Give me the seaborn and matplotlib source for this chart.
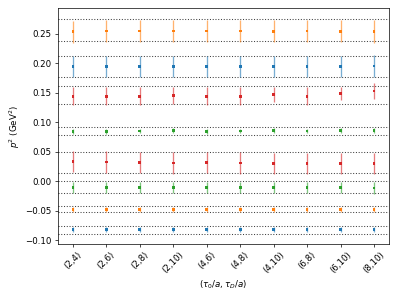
import matplotlib
matplotlib.use('Agg')
import matplotlib.pyplot as plt
import numpy as np
import pandas as pd
import seaborn as sns

LABELS = ['(2,4)', '(2,6)', '(2,8)', '(2,10)', '(4,6)',
          '(4,8)', '(4,10)', '(6,8)', '(6,10)', '(8,10)']

# valores centrales y errores de cada estado
ORANGE_HI = [0.2535, 0.2545, 0.2545, 0.2545, 0.2545, 0.2545, 0.254, 0.2545, 0.254, 0.2535]
ORANGE_HI_ERR = [0.0185] * 9 + [0.019]
BLUE_HI = [0.194] * 9 + [0.195]
BLUE_HI_ERR = [0.018] * 9 + [0.019]
RED_HI = [0.144, 0.144, 0.144, 0.145, 0.144, 0.144, 0.1465, 0.144, 0.149, 0.153]
RED_HI_ERR = [0.0155, 0.0155, 0.0155, 0.015, 0.0155, 0.0155, 0.013, 0.0155, 0.011, 0.0135]
GREEN_HI = [0.0845, 0.0845, 0.085, 0.0855, 0.0845, 0.085, 0.0855, 0.085, 0.0855, 0.086]
GREEN_HI_ERR = [0.004] * 10
RED_LO = [0.033, 0.0325, 0.032, 0.031, 0.032, 0.031, 0.0305, 0.0305, 0.0305, 0.030]
RED_LO_ERR = [0.018] * 10
GREEN_LO = [-0.0105, -0.0105, -0.011, -0.011, -0.0105, -0.0105, -0.011, -0.011, -0.011, -0.0115]
GREEN_LO_ERR = [0.0095] * 10
ORANGE_LO = [-0.0475] * 10
ORANGE_LO_ERR = [0.004] * 10
BLUE_LO = [-0.082] * 10
BLUE_LO_ERR = [0.0045] * 10

# bandas (inferior, superior) marcadas con líneas punteadas
BANDS = [
    (0.2375, 0.2745), (0.1765, 0.2115), (0.1305, 0.161), (0.0787, 0.0918),
    (0.0143, 0.0497), (-0.0204, 0.0), (-0.0528, -0.0415), (-0.089, -0.076),
]

SERIES = [
    ('orange_hi', ORANGE_HI, ORANGE_HI_ERR, 'tab:orange'),
    ('blue_hi', BLUE_HI, BLUE_HI_ERR, 'tab:blue'),
    ('red_hi', RED_HI, RED_HI_ERR, 'tab:red'),
    ('green_hi', GREEN_HI, GREEN_HI_ERR, 'tab:green'),
    ('red_lo', RED_LO, RED_LO_ERR, 'tab:red'),
    ('green_lo', GREEN_LO, GREEN_LO_ERR, 'tab:green'),
    ('orange_lo', ORANGE_LO, ORANGE_LO_ERR, 'tab:orange'),
    ('blue_lo', BLUE_LO, BLUE_LO_ERR, 'tab:blue'),
]

rows = []
for name, vals, errs, _ in SERIES:
    for i, (v, e) in enumerate(zip(vals, errs)):
        rows.append({'serie': name, 'x': i, 'valor': v, 'err': e})
df = pd.DataFrame(rows)
palette = {name: color for name, _, _, color in SERIES}

sns.set_style('ticks')
plt.rcParams['font.family'] = ['DejaVu Sans']
plt.rcParams.update({'text.color': 'k', 'axes.labelcolor': 'k',
                     'xtick.color': 'k', 'ytick.color': 'k'})
fig, ax = plt.subplots(figsize=(6.4, 4.8), dpi=62.35)

for lo, hi in BANDS:
    ax.axhline(lo, color='k', ls=':', lw=1.2, alpha=0.75)
    ax.axhline(hi, color='k', ls=':', lw=1.2, alpha=0.75)

for name, g in df.groupby('serie', sort=False):
    ax.errorbar(g['x'], g['valor'], yerr=g['err'], fmt='none',
                ecolor=palette[name], elinewidth=1.5, alpha=0.6)

sns.scatterplot(data=df, x='x', y='valor', hue='serie', palette=palette,
                marker='s', s=10, edgecolor='none', legend=False, ax=ax, zorder=3)

ax.set_xticks(range(len(LABELS)))
ax.set_xticklabels(LABELS, rotation=45)
ax.set_xlim(-0.45, 9.45)
ax.set_ylim(-0.1063, 0.2938)
ax.set_xlabel(r'$(\tau_0/a, \tau_D/a)$')
ax.set_ylabel(r'$p^2$ (GeV$^2$)')
for s in ax.spines.values():
    s.set_color('k')

fig.subplots_adjust(left=0.145, right=0.975, top=0.973, bottom=0.184)
fig.savefig('out.png', dpi=62.35)
